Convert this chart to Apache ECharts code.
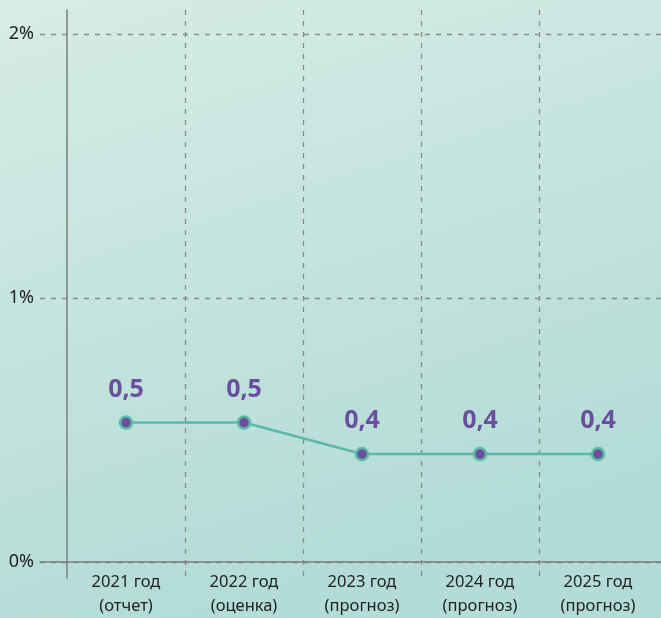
<!DOCTYPE html>
<html>
<head>
<meta charset="utf-8">
<script src="https://cdn.jsdelivr.net/npm/echarts@6/dist/echarts.min.js"></script>
<style>
  html, body { margin: 0; padding: 0; }
  #chart { width: 661px; height: 618px; }
</style>
</head>
<body>
<div id="chart"></div>
<script>
const categories = ['2021 год\n(отчет)', '2022 год\n(оценка)', '2023 год\n(прогноз)', '2024 год\n(прогноз)', '2025 год\n(прогноз)'];
const values = [0.52, 0.52, 0.4, 0.4, 0.4];
const valueLabels = ['0,5', '0,5', '0,4', '0,4', '0,4'];
const yTicks = [0, 1, 2];

const axisGray = '#7d7d7d';
const dashGray = '#8a8a8a';
const font = '"Noto Sans", "Open Sans", sans-serif';

const chart = echarts.init(document.getElementById('chart'), null, { renderer: 'canvas' });

// вторая сетка шире первой: y-ось и вертикальные линии выходят за 0% и 2%
const pxPerUnit = (562 - 34) / 2;
const yMin = -(581 - 562) / pxPerUnit;
const yMax = 2 + (34 - 10) / pxPerUnit;

chart.setOption({
  backgroundColor: {
    type: 'linear', x: 0, y: 0, x2: 0.3, y2: 1,
    colorStops: [
      { offset: 0, color: '#d7ece6' },
      { offset: 1, color: '#b2dcd5' },
    ],
  },
  grid: [
    { left: 40, right: 0, top: 34, bottom: 56 },
    { left: 67, right: 4, top: 10, bottom: 37 },
  ],
  xAxis: [
    {
      gridIndex: 0,
      type: 'value',
      min: 0, max: 1,
      axisLine: { show: true, onZero: false, lineStyle: { color: axisGray, width: 1.5 } },
      axisTick: { show: false },
      axisLabel: { show: false },
      splitLine: { show: false },
    },
    {
      gridIndex: 1,
      type: 'category',
      data: categories,
      boundaryGap: true,
      axisLine: { show: false },
      axisTick: { show: false },
      axisLabel: {
        interval: 0,
        margin: -8,
        color: '#222',
        fontFamily: font,
        fontSize: 16.5,
        lineHeight: 24,
      },
      splitLine: {
        show: true,
        interval: 0,
        showMinLine: false,
        showMaxLine: false,
        lineStyle: { color: dashGray, type: [5, 6], width: 1.3 },
      },
    },
  ],
  yAxis: [
    {
      gridIndex: 0,
      type: 'value',
      min: yTicks[0],
      max: yTicks[yTicks.length - 1],
      interval: 1,
      axisLine: { show: false },
      axisTick: { show: false },
      axisLabel: {
        formatter: '{value}%',
        margin: 6,
        color: '#222',
        fontFamily: font,
        fontSize: 18,
      },
      splitLine: {
        show: true,
        lineStyle: { color: dashGray, type: [5, 6], width: 1.3 },
      },
    },
    {
      gridIndex: 1,
      type: 'value',
      min: yMin,
      max: yMax,
      axisLine: { show: true, lineStyle: { color: axisGray, width: 1.5 } },
      axisTick: { show: false },
      axisLabel: { show: false },
      splitLine: { show: false },
    },
  ],
  series: [
    {
      type: 'line',
      xAxisIndex: 1,
      yAxisIndex: 1,
      data: values,
      lineStyle: { color: '#5cb8a9', width: 2.5 },
      symbol: 'circle',
      symbolSize: 12,
      itemStyle: { color: '#6a4f9f', borderColor: '#5cb8a9', borderWidth: 2.5 },
      label: {
        show: true,
        position: 'top',
        distance: 13,
        formatter: (p) => valueLabels[p.dataIndex],
        color: '#6a4f9f',
        fontFamily: font,
        fontWeight: 'bold',
        fontSize: 25,
      },
      z: 5,
    },
  ],
});
</script>
</body>
</html>
